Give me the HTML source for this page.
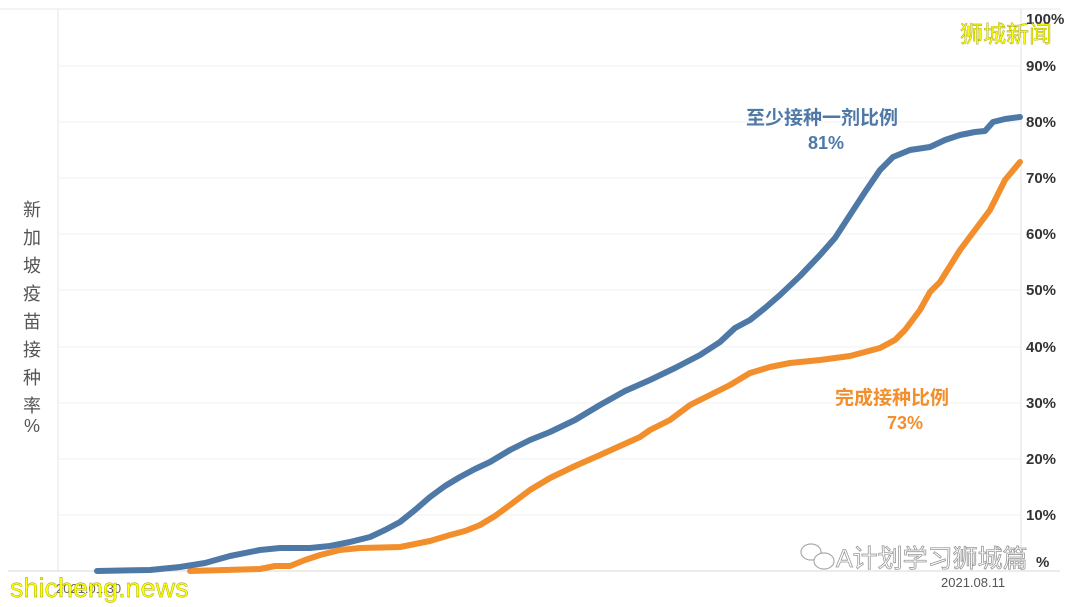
<!DOCTYPE html>
<html><head><meta charset="utf-8"><style>
body{margin:0;background:#fff;}
svg{display:block;font-family:"Liberation Sans","Noto Sans CJK SC",sans-serif;}
</style></head><body>
<svg width="1080" height="607" viewBox="0 0 1080 607" xmlns="http://www.w3.org/2000/svg">
<rect width="1080" height="607" fill="#fff"/>
<line x1="0" y1="9" x2="1060" y2="9" stroke="#e8e8e8" stroke-width="1"/>
<g stroke="#f2f2f2" stroke-width="1">
<line x1="58" y1="66" x2="1021" y2="66"/><line x1="58" y1="122" x2="1021" y2="122"/>
<line x1="58" y1="178" x2="1021" y2="178"/><line x1="58" y1="234" x2="1021" y2="234"/>
<line x1="58" y1="290" x2="1021" y2="290"/><line x1="58" y1="347" x2="1021" y2="347"/>
<line x1="58" y1="403" x2="1021" y2="403"/><line x1="58" y1="459" x2="1021" y2="459"/>
<line x1="58" y1="515" x2="1021" y2="515"/>
</g>
<line x1="58" y1="9" x2="58" y2="571" stroke="#e6e6e6"/>
<line x1="1021" y1="9" x2="1021" y2="571" stroke="#e0e0e0"/>
<line x1="8" y1="571" x2="1060" y2="571" stroke="#d9d9d9"/>
<g font-size="15" font-weight="bold" fill="#333">
<text x="1026" y="24">100%</text><text x="1026" y="71">90%</text><text x="1026" y="127">80%</text>
<text x="1026" y="183">70%</text><text x="1026" y="239">60%</text><text x="1026" y="295">50%</text>
<text x="1026" y="352">40%</text><text x="1026" y="408">30%</text><text x="1026" y="464">20%</text>
<text x="1026" y="520">10%</text><text x="1036" y="567">%</text>
</g>
<g font-size="18" fill="#555" text-anchor="middle">
<text x="32" y="216">新</text><text x="32" y="244">加</text><text x="32" y="272">坡</text>
<text x="32" y="300">疫</text><text x="32" y="328">苗</text><text x="32" y="356">接</text>
<text x="32" y="384">种</text><text x="32" y="412">率</text><text x="32" y="432">%</text>
</g>
<polyline fill="none" stroke="#f28e2b" stroke-width="6" stroke-linejoin="round" stroke-linecap="round" points="190,571 260,569 275,566 290,566 305,560 320,555 340,550 360,548 400,547 430,541 450,535 465,531 480,525 495,516 510,505 530,490 550,478 575,466 600,455 620,446 640,437 650,430 670,420 690,405 710,395 730,385 750,373 770,367 790,363 820,360 850,356 865,352 880,348 895,340 905,330 920,310 930,292 940,282 960,250 975,230 990,210 1005,180 1020,162"/>
<polyline fill="none" stroke="#4e79a7" stroke-width="6" stroke-linejoin="round" stroke-linecap="round" points="97,571 150,570 180,567 205,563 230,556 260,550 280,548 310,548 330,546 350,542 370,537 385,530 400,522 415,510 430,497 445,486 460,477 475,469 490,462 510,450 530,440 550,432 575,420 600,405 625,391 650,380 675,368 700,355 720,342 735,328 750,320 765,308 780,295 800,276 820,255 835,238 850,215 865,192 880,170 893,157 910,150 930,147 945,140 960,135 975,132 985,131 993,122 1005,119 1020,117"/>
<text x="822" y="124" font-size="19" font-weight="bold" fill="#4e79a7" text-anchor="middle">至少接种一剂比例</text>
<text x="826" y="149" font-size="18" font-weight="bold" fill="#4e79a7" text-anchor="middle">81%</text>
<text x="892" y="404" font-size="19" font-weight="bold" fill="#f28e2b" text-anchor="middle">完成接种比例</text>
<text x="905" y="429" font-size="18" font-weight="bold" fill="#f28e2b" text-anchor="middle">73%</text>
<text x="56" y="593" font-size="13" fill="#666">2021.01.30</text>
<text x="941" y="587" font-size="13" fill="#555">2021.08.11</text>
<text x="960" y="42" font-size="23" fill="#ffff00" stroke="#9a9a00" stroke-width="0.4">狮城新闻</text>
<text x="10" y="597" font-size="27" fill="#ffff00" stroke="#9a9a00" stroke-width="0.4">shicheng.news</text>
<text x="836" y="567" font-size="25" fill="#fff" stroke="#999" stroke-width="0.8">A计划学习狮城篇</text>
<g fill="none" stroke="#aaa" stroke-width="1.2"><ellipse cx="811" cy="552" rx="10" ry="8"/><ellipse cx="824" cy="561" rx="10" ry="8" fill="#fff"/></g>
</svg>
</body></html>
